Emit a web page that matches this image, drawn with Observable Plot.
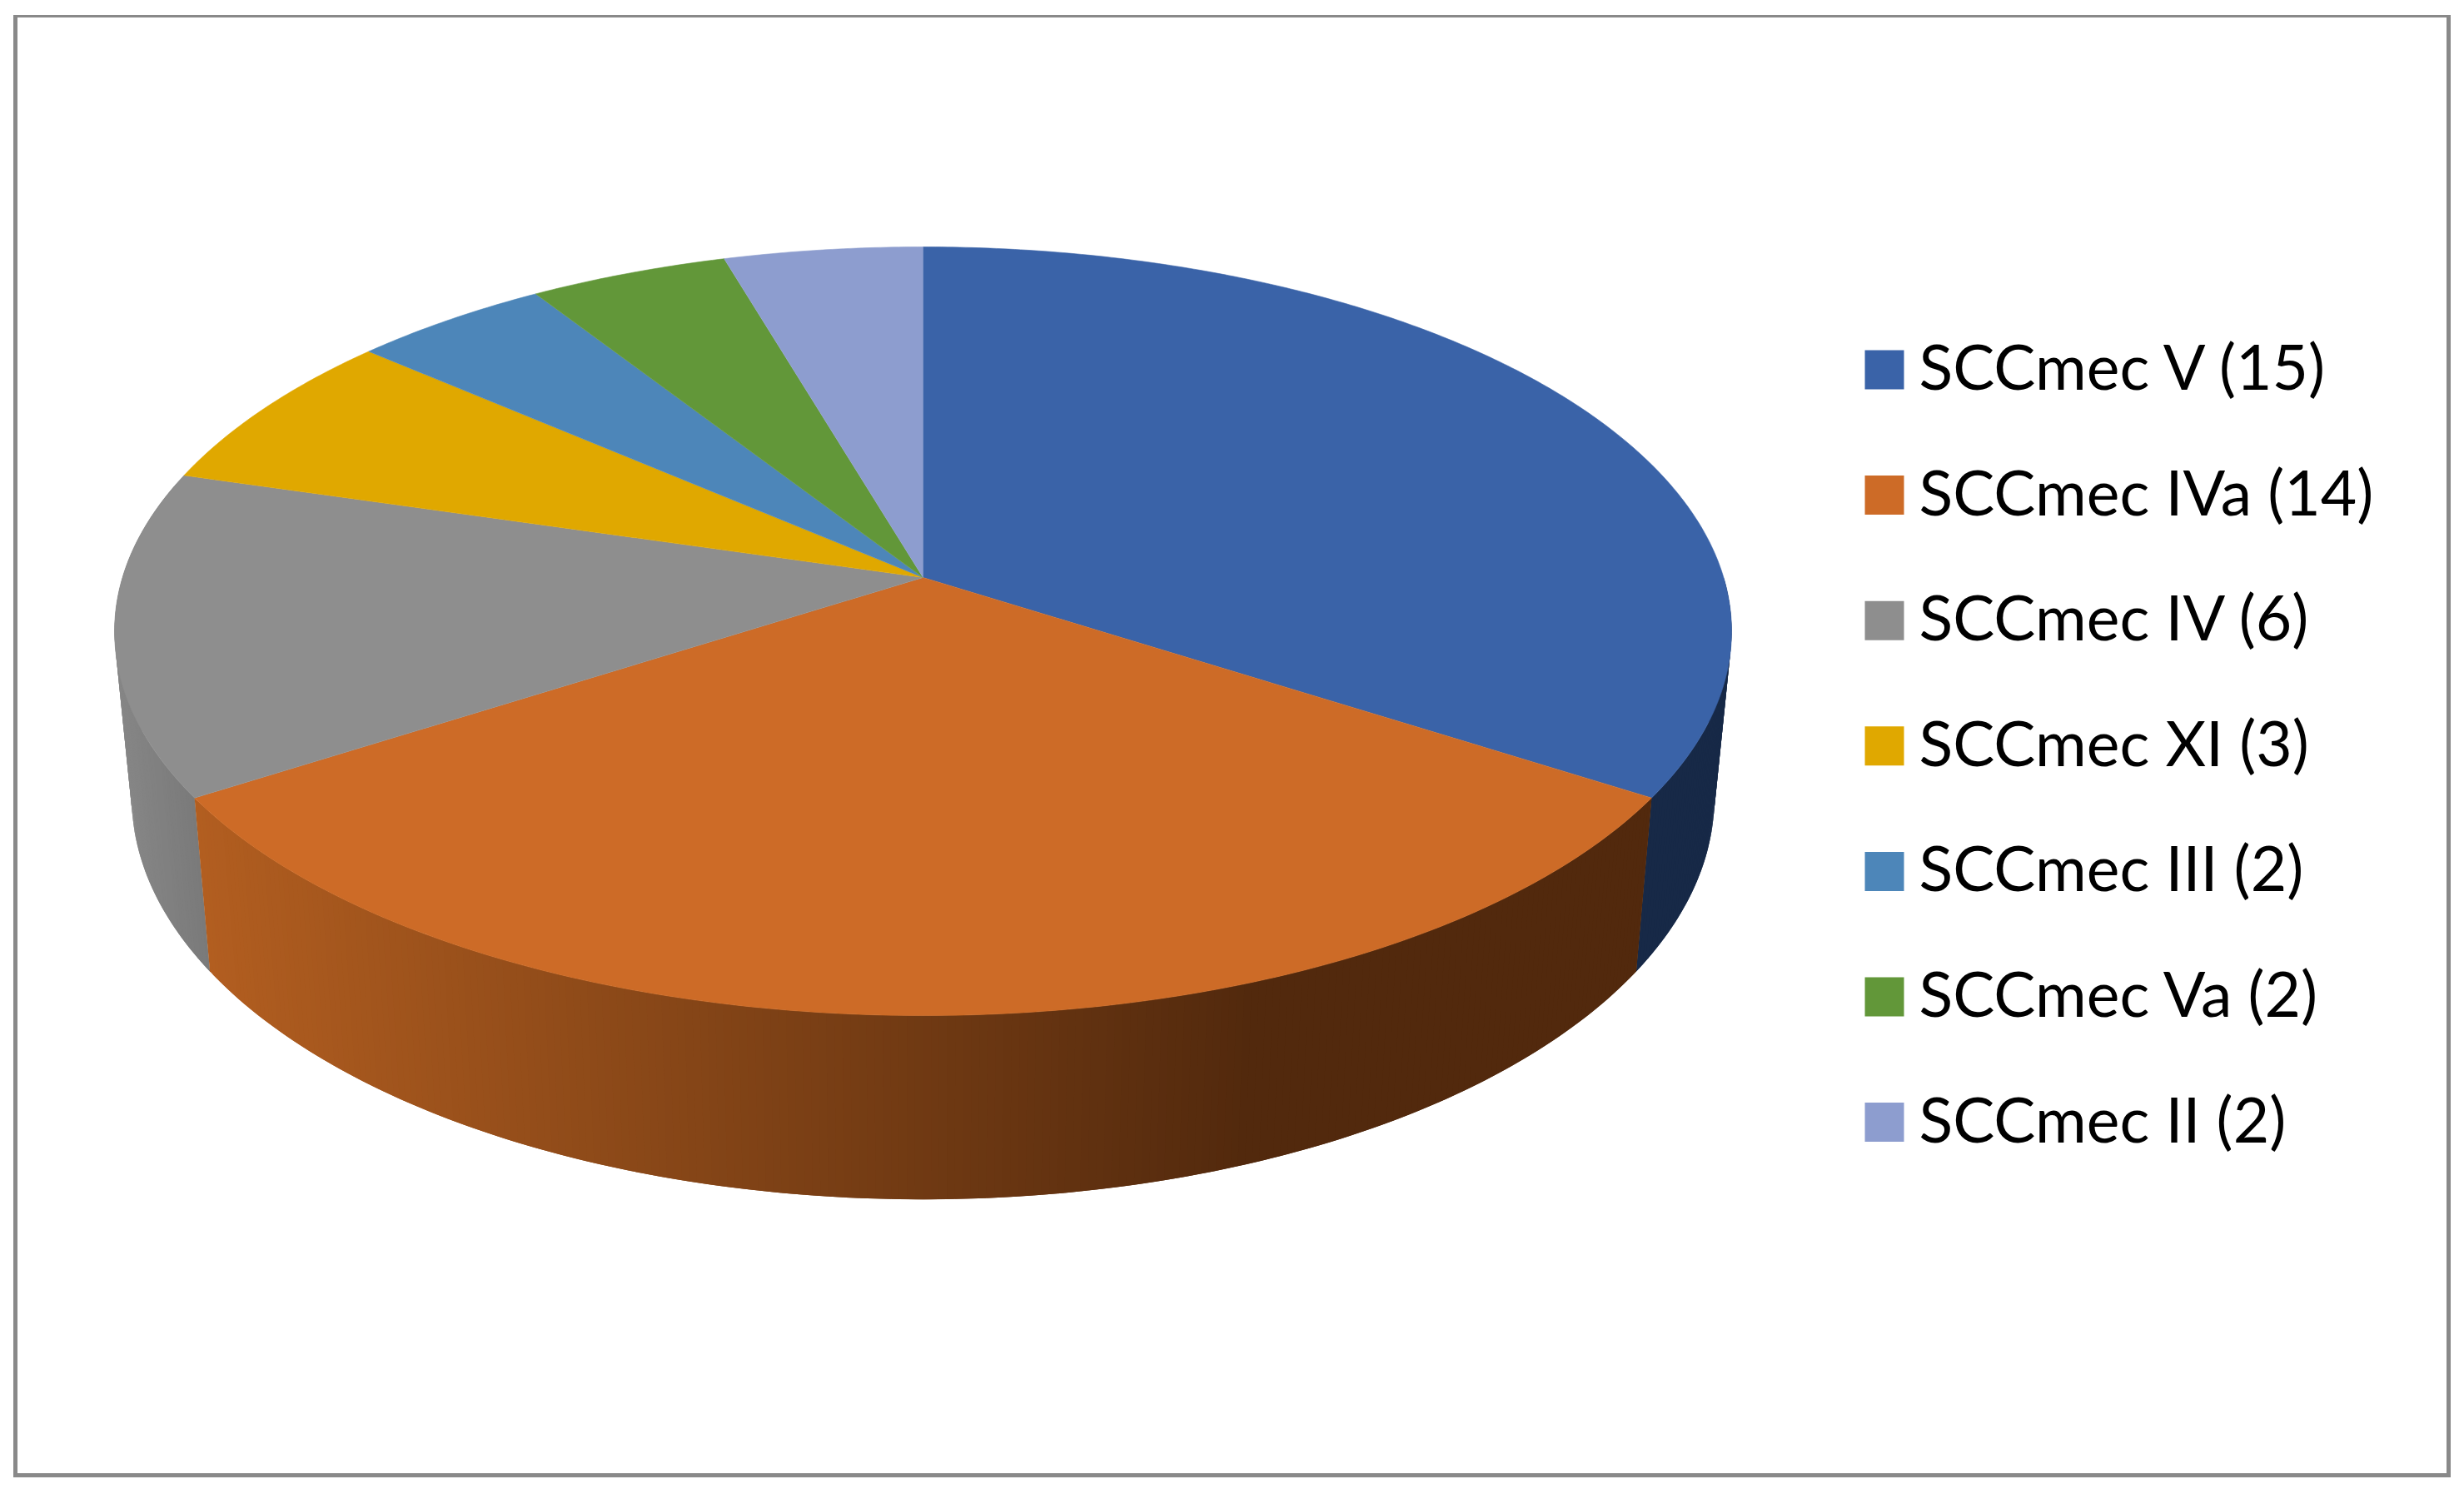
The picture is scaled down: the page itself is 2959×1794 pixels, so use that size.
<!DOCTYPE html>
<html><head><meta charset="utf-8">
<style>html,body{margin:0;padding:0;background:#fff;overflow:hidden}svg{display:block}</style>
<script src="https://cdn.jsdelivr.net/npm/d3@7"></script>
<script src="https://cdn.jsdelivr.net/npm/@observablehq/plot@0.6"></script>
</head><body><div id="chart"></div>
<script>
const names = ["SCCmec V (15)","SCCmec IVa (14)","SCCmec IV (6)","SCCmec XI (3)","SCCmec III (2)","SCCmec Va (2)","SCCmec II (2)"];
const counts = [15,14,6,3,2,2,2];
const colors = ["#3A63A8","#CD6B27","#8E8E8E","#E0A800","#4D86B9","#629739","#8D9DCF"];

const W = 2959, H = 1794;
const cx = 1108;
const topDisc = {y0:693, rx:961.4, ry:452.5, k:0.1398};
const baseDisc = {y0:889, rx:941, ry:473.6, k:0.14};
const project = (disc, deg) => {
  const t = deg*Math.PI/180, u = Math.sin(t), v = -Math.cos(t), s = 1/(1-disc.k*v);
  return {x: cx+disc.rx*u*s, y: disc.y0+disc.ry*v*s};
};
const total = d3.sum(counts);
const ends = Array.from(d3.cumsum(counts), c => c/total*360);
const starts = ends.map((e,i) => i ? ends[i-1] : 0);

const faces = [];
names.forEach((name,i) => {
  faces.push({x:cx, y:topDisc.y0, id:name, color:colors[i]});
  const n = Math.ceil((ends[i]-starts[i])*2);
  for (let j=0;j<=n;j++) {
    const p = project(topDisc, starts[i]+(ends[i]-starts[i])*j/n);
    faces.push({...p, id:name, color:colors[i]});
  }
});

// Side wall of the disc: shaded by horizontal position, later strips overlap earlier ones
const walls = [
  {from:90, to:ends[0], x0:1966, x1:2060, c0:"#172947", c1:"#172947"},
  {from:285, to:ends[1], x0:140, x1:250, c0:"#868686", c1:"#787878"},
  {from:ends[1], to:ends[0], x0:233, x1:1505, c0:"#B25E20", c1:"#52290D"}
];
const strips = [];
walls.forEach((w,k) => {
  const n = Math.ceil(Math.abs(w.to-w.from)*2), ramp = d3.interpolateRgb(w.c0,w.c1);
  const step = (w.to-w.from)/n;
  for (let j=0;j<n;j++) {
    const a = w.from+step*j, b = w.from+step*Math.min(n,j+2);
    const id = `${k}-${j}`, mid = project(topDisc,a+step/2).x;
    const color = ramp(Math.max(0,Math.min(1,(mid-w.x0)/(w.x1-w.x0))));
    [project(topDisc,a),project(topDisc,b),project(baseDisc,b),project(baseDisc,a)]
      .forEach(p => strips.push({...p,id,color}));
  }
});

const rows = names.map((name,i) => ({name, color:colors[i], y:443.5+i*150.6}));
const border = [
  {x1:16,x2:2943,y1:18,y2:21},{x1:16,x2:2943,y1:1769,y2:1774},
  {x1:16,x2:21,y1:18,y2:1774},{x1:2938,x2:2943,y1:18,y2:1774}
];

const chart = Plot.plot({
  width:W, height:H, margin:0,
  x:{domain:[0,W], range:[0,W], axis:null},
  y:{domain:[0,H], range:[0,H], axis:null},
  color:{type:"identity"},
  marks:[
    Plot.rect(border,{x1:"x1",x2:"x2",y1:"y1",y2:"y2",fill:"#898989"}),
    Plot.line(strips,{x:"x",y:"y",z:"id",fill:"color",stroke:"none"}),
    Plot.line(faces,{x:"x",y:"y",z:"id",fill:"color",stroke:"color",strokeWidth:0.6}),
    Plot.dot(rows,{x:()=>2262.5,y:"y",symbol:"square",r:26.5,fill:"color",stroke:"none"}),
    Plot.text(rows,{x:()=>2304,y:"y",text:"name",textAnchor:"start",fill:"#000",fontFamily:"Lato",fontSize:75})
  ]
});
document.getElementById("chart").append(chart);
</script></body></html>
